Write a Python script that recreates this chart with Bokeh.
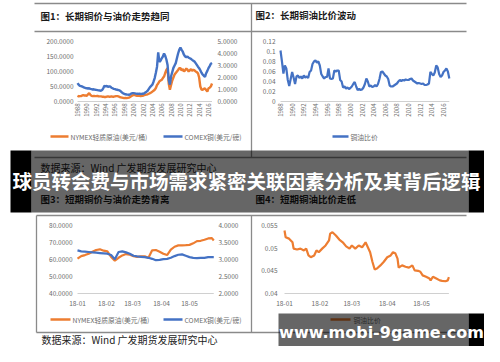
import math
from bokeh.plotting import figure
from bokeh.models import Range1d
from bokeh.core.properties import value
from bokeh.embed import file_html
from bokeh.resources import INLINE

# ---------------- data ----------------
# Chart 1: long-term copper vs oil (quarterly readings, 1988 onward)
c1_oil = [19, 17, 18, 18, 20, 21, 20, 20, 19, 24, 28, 22, 19, 18, 19, 18,
          18, 19, 17, 17, 17, 16, 16, 15, 15, 16, 17, 16, 16, 17, 16, 16,
          17, 18, 18, 17, 15, 14, 13, 12, 11, 12, 11, 12, 13, 15, 18, 20,
          22, 21, 20, 19, 19, 19, 18, 19, 19, 21, 22, 23, 24, 26, 28, 30,
          33, 36, 39, 45, 55, 60, 67, 70, 72, 78, 83, 95, 105, 111, 60, 39,
          55, 70, 80, 90, 95, 100, 105, 111, 111, 104, 108, 100, 104, 110, 106, 100,
          104, 108, 102, 106, 104, 100, 98, 94, 80, 50, 40, 39, 42, 44, 38, 33,
          44, 46, 50, 60]
c1_copper = [1.53, 1.40, 1.30, 1.28, 1.25, 1.20, 1.15, 1.12, 1.10, 1.08, 1.10, 1.05,
             1.03, 1.00, 1.02, 0.98, 0.97, 0.95, 0.93, 0.92, 0.89, 0.95, 1.10, 1.30,
             1.25, 1.30, 1.22, 1.25, 1.25, 1.15, 1.10, 1.05, 1.03, 1.00, 0.98, 0.95,
             0.92, 0.85, 0.75, 0.68, 0.64, 0.60, 0.58, 0.57, 0.56, 0.60, 0.66, 0.70,
             0.70, 0.68, 0.66, 0.64, 0.64, 0.66, 0.63, 0.64, 0.64, 0.68, 0.75, 0.82,
             0.90, 1.05, 1.20, 1.30, 1.40, 1.65, 1.95, 2.40, 2.90, 4.10, 3.30, 3.40,
             3.60, 3.75, 4.00, 3.80, 3.50, 3.05, 1.80, 1.40, 2.10, 2.45, 2.80, 3.00,
             3.20, 3.60, 4.00, 4.30, 4.50, 4.30, 4.15, 3.90, 3.75, 3.70, 3.75, 3.65,
             3.60, 3.55, 3.47, 3.40, 3.33, 3.20, 3.05, 2.90, 2.78, 2.60, 2.40, 2.25,
             2.14, 2.05, 2.36, 2.55, 2.78, 2.95, 3.14, 3.20]
c1_year = [1988 + i * 0.25 for i in range(len(c1_oil))]
c1_year_ticks = list(range(1988, 2017, 2))
c1_left_ticks = [0, 50, 100, 150, 200]
c1_left_labels = ["0.0000", "50.0000", "100.0000", "150.0000", "200.0000"]
c1_right_ticks = [0, 1, 2, 3, 4, 5]
c1_right_labels = ["0.0000", "1.0000", "2.0000", "3.0000", "4.0000", "5.0000"]

# Chart 2: long-term copper/oil ratio
c2_ratio = [0.102, 0.080, 0.056, 0.072, 0.066, 0.043, 0.031, 0.045, 0.059, 0.048, 0.035, 0.050,
            0.052, 0.047, 0.050, 0.046, 0.052, 0.048, 0.050, 0.047, 0.059, 0.062, 0.075, 0.080,
            0.082, 0.078, 0.080, 0.072, 0.055, 0.050, 0.046, 0.049, 0.049, 0.066, 0.046, 0.045,
            0.046, 0.062, 0.060, 0.062, 0.062, 0.043, 0.040, 0.028, 0.030, 0.026, 0.028, 0.025,
            0.027, 0.030, 0.035, 0.039, 0.030, 0.023, 0.025, 0.023, 0.024, 0.028, 0.035, 0.046,
            0.040, 0.030, 0.032, 0.029, 0.030, 0.033, 0.030, 0.035, 0.045, 0.059, 0.060, 0.056,
            0.052, 0.050, 0.045, 0.032, 0.030, 0.030, 0.032, 0.034, 0.036, 0.040, 0.043, 0.041,
            0.043, 0.042, 0.044, 0.043, 0.043, 0.045, 0.046, 0.042, 0.040, 0.038, 0.036, 0.037,
            0.036, 0.035, 0.036, 0.033, 0.033, 0.034, 0.036, 0.059, 0.055, 0.052, 0.058, 0.072,
            0.068, 0.055, 0.049, 0.052, 0.059, 0.062, 0.066, 0.060, 0.046]
c2_year = [1988 + i * 0.25 for i in range(len(c2_ratio))]
c2_year_ticks = list(range(1988, 2017, 2))
c2_y_ticks = [0, 0.02, 0.04, 0.06, 0.08, 0.1, 0.12]
c2_y_labels = ["0", "0.02", "0.04", "0.06", "0.08", "0.1", "0.12"]

# Chart 3: short-term (2018, day of year)
c3_day = [0, 4, 8, 12, 16, 20, 24, 28, 32, 36, 40, 44, 48, 52, 56, 60, 64, 68, 72,
          76, 80, 84, 88, 92, 96, 100, 104, 108, 112, 116, 120, 124, 128, 132, 136,
          140, 144, 146]
c3_oil = [60.5, 62.0, 62.6, 63.4, 64.5, 65.6, 66.0, 65.2, 64.8, 61.5, 59.3, 61.0, 62.4,
          63.2, 62.8, 62.0, 61.5, 61.8, 61.9, 61.0, 65.4, 65.6, 64.6, 63.4, 62.6, 65.8,
          67.5, 68.3, 68.3, 68.4, 68.6, 69.5, 70.8, 71.0, 71.6, 72.4, 72.6, 71.2]
c3_copper = [3.27, 3.24, 3.23, 3.22, 3.21, 3.20, 3.19, 3.18, 3.17, 3.13, 3.01, 3.22, 3.24,
             3.21, 3.17, 3.11, 3.09, 3.08, 3.07, 3.05, 3.02, 2.98, 2.99, 3.01, 3.02, 3.05,
             3.10, 3.14, 3.15, 3.11, 3.07, 3.05, 3.04, 3.05, 3.05, 3.07, 3.07, 3.07]
c3_month_days = [0, 31, 59, 90, 120]
c3_month_labels = ["18-01", "18-02", "18-03", "18-04", "18-05"]
c3_left_ticks = [40, 50, 60, 70, 80]
c3_left_labels = ["40.0000", "50.0000", "60.0000", "70.0000", "80.0000"]
c3_right_ticks = [2.0, 2.5, 3.0, 3.5, 4.0]
c3_right_labels = ["2.0000", "2.5000", "3.0000", "3.5000", "4.0000"]

# Chart 4: short-term copper/oil ratio
c4_day = [0, 1, 4, 7, 8, 11, 14, 17, 19, 21, 23, 26, 28, 30, 33, 36, 39, 40, 42, 45, 48,
          51, 54, 57, 59, 62, 65, 68, 71, 73, 75, 77, 79, 81, 84, 87, 90, 93, 95, 97, 99,
          100, 103, 106, 109, 112, 114, 117, 119, 121, 124, 127, 128, 130, 133, 136, 138,
          141, 143, 144]
c4_ratio = [0.0539, 0.0524, 0.0521, 0.0513, 0.0499, 0.0497, 0.0499, 0.0495, 0.0499, 0.0484,
            0.0480, 0.0484, 0.0495, 0.0491, 0.0499, 0.0506, 0.0517, 0.0532, 0.0535, 0.0528,
            0.0519, 0.0513, 0.0504, 0.0499, 0.0506, 0.0499, 0.0506, 0.0502, 0.0513, 0.0502,
            0.0491, 0.0470, 0.0453, 0.0455, 0.0462, 0.0470, 0.0480, 0.0484, 0.0491, 0.0489,
            0.0477, 0.0457, 0.0462, 0.0459, 0.0457, 0.0462, 0.0451, 0.0450, 0.0448, 0.0440,
            0.0437, 0.0433, 0.0429, 0.0437, 0.0433, 0.0429, 0.0428, 0.0427, 0.0429, 0.0436]
c4_month_days = [0, 31, 59, 90, 120]
c4_month_labels = ["18-01", "18-02", "18-03", "18-04", "18-05"]
c4_y_ticks = [0.04, 0.045, 0.05, 0.055]
c4_y_labels = ["0.04", "0.045", "0.05", "0.055"]

titles = ["图1：长期铜价与油价走势趋同", "图2：长期铜油比价波动",
          "图3：短期铜价与油价走势背离", "图4：短期铜油比价走低"]
source_text = "数据来源：Wind 广发期货发展研究中心"
legend_oil = "NYMEX轻质原油(美元/桶)"
legend_copper = "COMEX铜(美元/磅)"
legend_ratio = "铜油比价"
banner_title = "球员转会费与市场需求紧密关联因素分析及其背后逻辑"
banner_url = "www.mobi-9game.com"

# ---------------- style ----------------
ORANGE = "#ED7D31"
BLUE = "#4472C4"
FONT = "Noto Sans CJK SC"
TICK_C = "#6b6b6b"
LEFT, RIGHT, BOTTOM, TOP = 0, 484, 346, 0

p = figure(width=484, height=346, x_range=Range1d(LEFT, RIGHT), y_range=Range1d(BOTTOM, TOP),
           output_backend="svg", toolbar_location=None, min_border=0,
           x_axis_type=None, y_axis_type=None)
p.grid.visible = False
p.outline_line_color = None
p.background_fill_color = "white"
p.border_fill_color = "white"


def span_range(v0, px0, v1, px1, lo, hi):
    k = (v1 - v0) / (px1 - px0)
    return Range1d(start=v0 + (lo - px0) * k, end=v0 + (hi - px0) * k)


def xr(v0, px0, v1, px1):
    return span_range(v0, px0, v1, px1, LEFT, RIGHT)


def yr(v0, py0, v1, py1):
    return span_range(v0, py0, v1, py1, BOTTOM, TOP)


p.extra_x_ranges = {
    "c1x": xr(1988, 77, 2016, 208),
    "c2x": xr(1988, 280, 2016, 443),
    "c3x": xr(0, 77, 120, 189),
    "c4x": xr(0, 284, 120, 421),
}
p.extra_y_ranges = {
    "c1l": yr(0, 101, 200, 41),
    "c1r": yr(0, 101, 5, 41),
    "c2y": yr(0, 101, 0.12, 41),
    "c3l": yr(40, 293, 80, 225),
    "c3r": yr(2, 293, 4, 225),
    "c4y": yr(0.04, 293, 0.055, 225),
}


def txt(x, y, t, size, color="#333333", align="left", style="normal", font=FONT, **kw):
    p.text(x=x, y=y, text=t, text_font=value(font), text_font_size=size, text_color=color,
           text_align=align, text_baseline="middle", text_font_style=style, **kw)


# ---------------- frames ----------------
frame_c = "#8a8a8a"
p.segment(x0=[34, 34, 34, 36, 36], y0=[3, 31, 157, 215, 332], x1=[466, 466, 466, 466, 468],
          y1=[3, 31, 157, 215, 332], line_color=frame_c, line_width=1.3)
p.segment(x0=[251, 251, 36], y0=[3, 215, 215], x1=[251, 251, 36], y1=[157, 332, 332],
          line_color=frame_c, line_width=1.3)

# titles
txt([40, 255], [15, 14], titles[:2], "9.5px", color="#1a1a1a", style="bold")
txt([40, 255], [198, 198], titles[2:], "9.5px", color="#1a1a1a", style="bold")

# ---------------- chart 1 ----------------
p.segment(x0=[c1_year[0]], y0=[0], x1=[c1_year[-1]], y1=[0], x_range_name="c1x",
          y_range_name="c1l", line_color="#d0d0d0", line_width=1)
p.line(c1_year, c1_oil, x_range_name="c1x", y_range_name="c1l", line_color=ORANGE, line_width=2.4)
p.line(c1_year, c1_copper, x_range_name="c1x", y_range_name="c1r", line_color=BLUE, line_width=2.4)
txt([73] * len(c1_left_ticks), c1_left_ticks, c1_left_labels, "6.5px", TICK_C, "right",
    y_range_name="c1l")
txt([217] * len(c1_right_ticks), c1_right_ticks, c1_right_labels, "6.5px", TICK_C, "left",
    y_range_name="c1r")
txt(c1_year_ticks, [103] * len(c1_year_ticks), [str(v) for v in c1_year_ticks], "6px", TICK_C,
    "right", x_range_name="c1x", angle=math.pi / 2)
p.segment(x0=[50, 163], y0=[136, 136], x1=[68, 182], y1=[136, 136],
          line_color=[ORANGE, BLUE], line_width=2.5)
txt([70, 184], [136, 136], [legend_oil, legend_copper], "6.8px", TICK_C)
txt([40], [167], [source_text], "10px", "#222222")

# ---------------- chart 2 ----------------
p.segment(x0=[c2_year[0]], y0=[0], x1=[c2_year[-1]], y1=[0], x_range_name="c2x",
          y_range_name="c2y", line_color="#d0d0d0", line_width=1)
p.line(c2_year, c2_ratio, x_range_name="c2x", y_range_name="c2y", line_color=BLUE, line_width=2.2)
txt([275] * len(c2_y_ticks), c2_y_ticks, c2_y_labels, "6.5px", TICK_C, "right", y_range_name="c2y")
txt(c2_year_ticks, [103] * len(c2_year_ticks), [str(v) for v in c2_year_ticks], "6px", TICK_C,
    "right", x_range_name="c2x", angle=math.pi / 2)
p.segment(x0=[332], y0=[136], x1=[348], y1=[136], line_color=BLUE, line_width=2.5)
txt([350], [136], [legend_ratio], "6.8px", TICK_C)

# ---------------- chart 3 ----------------
p.segment(x0=[c3_day[0]], y0=[40], x1=[c3_day[-1]], y1=[40], x_range_name="c3x",
          y_range_name="c3l", line_color="#d0d0d0", line_width=1)
p.line(c3_day, c3_oil, x_range_name="c3x", y_range_name="c3l", line_color=ORANGE, line_width=2.2)
p.line(c3_day, c3_copper, x_range_name="c3x", y_range_name="c3r", line_color=BLUE, line_width=2.2)
txt([72] * len(c3_left_ticks), c3_left_ticks, c3_left_labels, "6.5px", TICK_C, "right",
    y_range_name="c3l")
txt([218] * len(c3_right_ticks), c3_right_ticks, c3_right_labels, "6.5px", TICK_C, "left",
    y_range_name="c3r")
txt(c3_month_days, [303] * len(c3_month_days), c3_month_labels, "6.5px", TICK_C, "center",
    x_range_name="c3x")
p.segment(x0=[50, 163], y0=[319, 319], x1=[70, 182], y1=[319, 319],
          line_color=[ORANGE, BLUE], line_width=2.5)
txt([72, 184], [319, 319], [legend_oil, legend_copper], "6.8px", TICK_C)
txt([41], [339], [source_text], "10px", "#222222")

# ---------------- chart 4 ----------------
p.segment(x0=[c4_day[0]], y0=[0.04], x1=[c4_day[-1]], y1=[0.04], x_range_name="c4x",
          y_range_name="c4y", line_color="#d0d0d0", line_width=1)
p.line(c4_day, c4_ratio, x_range_name="c4x", y_range_name="c4y", line_color=ORANGE, line_width=2.2)
txt([277] * len(c4_y_ticks), c4_y_ticks, c4_y_labels, "6.5px", TICK_C, "right", y_range_name="c4y")
txt(c4_month_days, [303] * len(c4_month_days), c4_month_labels, "6.5px", TICK_C, "center",
    x_range_name="c4x")
p.segment(x0=[330], y0=[319], x1=[350], y1=[319], line_color=ORANGE, line_width=2.5)
txt([353], [319], [legend_ratio], "6.8px", TICK_C)

# ---------------- overlay banners ----------------
p.quad(left=[31], right=[468], top=[150], bottom=[212], fill_color="black", fill_alpha=0.6,
       line_color=None)
p.quad(left=[10, 468], right=[31, 484], top=[150, 150], bottom=[212, 212], fill_color="black",
       line_color=None)
txt([246], [180], [banner_title], "19.5px", "white", "center", "bold")

p.quad(left=[278], right=[468], top=[313], bottom=[346], fill_color="black", fill_alpha=0.6,
       line_color=None)
p.quad(left=[468], right=[484], top=[313], bottom=[346], fill_color="black", line_color=None)
txt([381], [332], [banner_url], "16px", "white", "center", "bold", font="DejaVu Sans")

open("out.html", "w").write(file_html(p, INLINE))
